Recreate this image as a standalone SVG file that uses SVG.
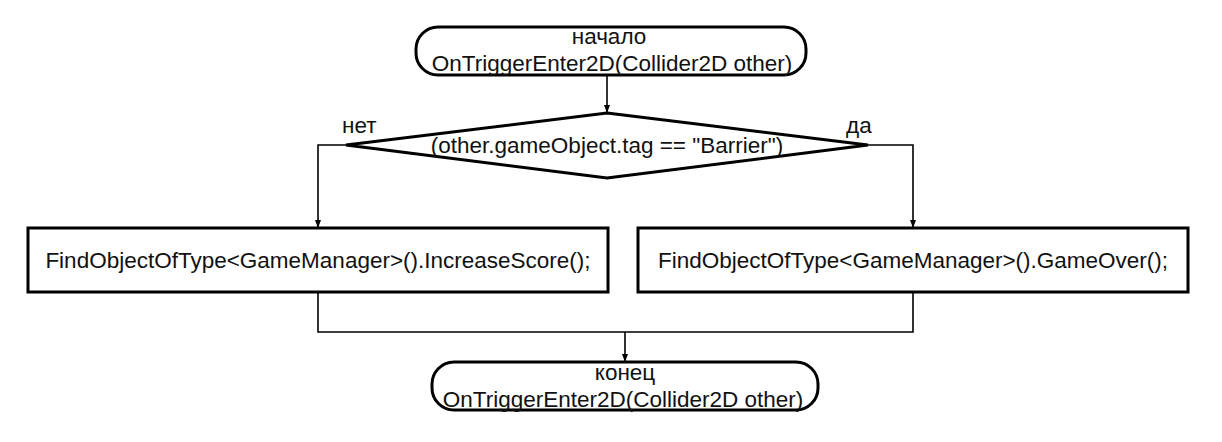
<svg xmlns="http://www.w3.org/2000/svg" width="1222" height="442" viewBox="0 0 1222 442">
<style>
.s{fill:#fff;stroke:#000;stroke-width:3}
.c{fill:none;stroke:#000;stroke-width:1.6}
text{font-family:"Liberation Sans",Arial,sans-serif;font-size:22.5px;fill:#111;text-anchor:middle}
.l{text-anchor:start}
</style>
<defs>
<marker id="a" markerWidth="8" markerHeight="10" refX="7" refY="4" orient="auto" markerUnits="userSpaceOnUse">
<path d="M0,1 L8,4 L0,7 Z" fill="#000"/>
</marker>
</defs>
<rect width="1222" height="442" fill="#fff"/>
<g id="connectors">
<path class="c" d="M607,76 V112" marker-end="url(#a)"/>
<path class="c" d="M346,145 H318 V227" marker-end="url(#a)"/>
<path class="c" d="M868,145 H913 V227" marker-end="url(#a)"/>
<path class="c" d="M318,292 V332 H913 V292"/>
<path class="c" d="M625,332 V361" marker-end="url(#a)"/>
</g>
<g id="start">
<rect class="s" x="416" y="27" width="390" height="48" rx="22"/>
<text x="609" y="44">начало</text>
<text x="612" y="70.5">OnTriggerEnter2D(Collider2D other)</text>
</g>
<g id="decision">
<polygon class="s" points="607,113 868,145 607,178 346,145"/>
<text x="607" y="153">(other.gameObject.tag == "Barrier")</text>
<text class="l" x="342" y="133">нет</text>
<text class="l" x="846" y="133">да</text>
</g>
<g id="increase">
<rect class="s" x="28" y="228" width="580" height="64"/>
<text x="318" y="268">FindObjectOfType&lt;GameManager&gt;().IncreaseScore();</text>
</g>
<g id="gameover">
<rect class="s" x="638" y="228" width="550" height="64"/>
<text x="913" y="268">FindObjectOfType&lt;GameManager&gt;().GameOver();</text>
</g>
<g id="end">
<rect class="s" x="432" y="362" width="386" height="48" rx="22"/>
<text x="625" y="380">конец</text>
<text x="623" y="406.5">OnTriggerEnter2D(Collider2D other)</text>
</g>
</svg>
